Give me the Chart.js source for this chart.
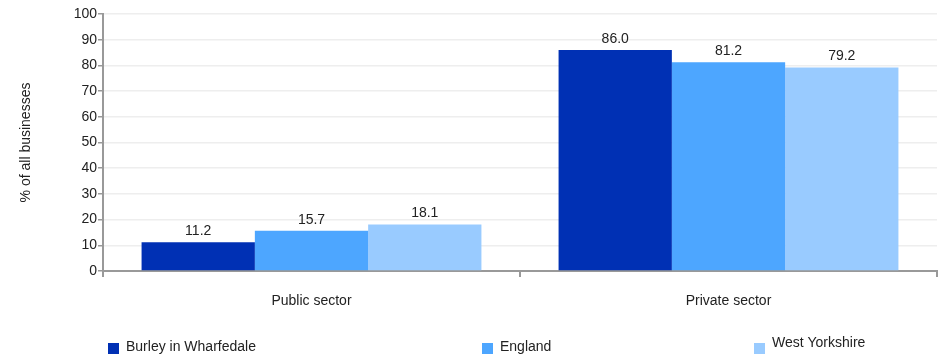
<!DOCTYPE html>
<html>
<head>
<meta charset="utf-8">
<script src="https://cdn.jsdelivr.net/npm/chart.js@4"></script>
<style>
  html, body { margin: 0; padding: 0; background: #fff; }
  #wrap { width: 939px; height: 355px; position: relative; }
</style>
</head>
<body>
<div id="wrap"><canvas id="chart"></canvas></div>
<script>
// chart data
const categories = ["Public sector", "Private sector"];
const seriesNames = ["Burley in Wharfedale", "England", "West Yorkshire"];
const burleyValues = [11.2, 86.0];
const englandValues = [15.7, 81.2];
const westYorkshireValues = [18.1, 79.2];
const yTicks = [0, 10, 20, 30, 40, 50, 60, 70, 80, 90, 100];

const colors = ["#0030b4", "#4da6ff", "#99cbff"];
const fontFamily = "'Liberation Sans', Arial, sans-serif";

// value labels above each bar
const barLabels = {
  id: "barLabels",
  afterDatasetsDraw(chart) {
    const ctx = chart.ctx;
    ctx.save();
    ctx.font = "14px " + fontFamily;
    ctx.fillStyle = "#222";
    ctx.textAlign = "center";
    ctx.textBaseline = "bottom";
    chart.data.datasets.forEach((ds, i) => {
      chart.getDatasetMeta(i).data.forEach((bar, j) => {
        ctx.fillText(ds.data[j].toFixed(1), bar.x, bar.y - 4);
      });
    });
    ctx.restore();
  }
};

// legend laid out like the original (spread across the bottom)
const customLegend = {
  id: "customLegend",
  afterDraw(chart) {
    const ctx = chart.ctx;
    const spots = [
      { x: 108, y: 348 },
      { x: 482, y: 348 },
      { x: 754, y: 348 }
    ];
    ctx.save();
    ctx.font = "14px " + fontFamily;
    ctx.textBaseline = "middle";
    seriesNames.forEach((name, i) => {
      const s = spots[i];
      ctx.fillStyle = colors[i];
      ctx.fillRect(s.x, s.y - 5, 11, 11);
      ctx.fillStyle = "#222";
      ctx.fillText(name, s.x + 18, i === 2 ? s.y - 5 : s.y - 1);
    });
    ctx.restore();
  }
};

new Chart(document.getElementById("chart"), {
  type: "bar",
  data: {
    labels: categories,
    datasets: [
      { label: seriesNames[0], data: burleyValues, backgroundColor: colors[0] },
      { label: seriesNames[1], data: englandValues, backgroundColor: colors[1] },
      { label: seriesNames[2], data: westYorkshireValues, backgroundColor: colors[2] }
    ]
  },
  options: {
    responsive: true,
    maintainAspectRatio: false,
    animation: false,
    layout: { padding: { top: 14, right: 2, left: 0, bottom: 0 } },
    datasets: { bar: { barPercentage: 1, categoryPercentage: 0.815 } },
    plugins: {
      legend: { display: false },
      tooltip: { enabled: false }
    },
    scales: {
      x: {
        afterFit: (scale) => { scale.height = 84; },
        grid: {
          offset: true,
          drawOnChartArea: false,
          color: "#999",
          tickLength: 6,
          lineWidth: 2
        },
        border: { color: "#999", width: 2 },
        ticks: {
          color: "#222",
          padding: 16,
          font: { size: 14, family: fontFamily }
        }
      },
      y: {
        min: 0,
        max: 100,
        afterFit: (scale) => { scale.width = 103; },
        afterBuildTicks: (scale) => {
          scale.ticks = yTicks.map((v) => ({ value: v }));
        },
        grid: {
          color: (c) => (c.tick && c.tick.value === 0 ? "#999" : "#eeeeee"),
          tickColor: "#999",
          tickLength: 5,
          lineWidth: 1.5
        },
        border: { color: "#999", width: 2 },
        ticks: {
          color: "#222",
          padding: 1,
          font: { size: 14, family: fontFamily }
        },
        title: {
          display: true,
          text: "% of all businesses",
          color: "#222",
          padding: { top: 18, bottom: 0 },
          font: { size: 14, family: fontFamily }
        }
      }
    }
  },
  plugins: [barLabels, customLegend]
});
</script>
</body>
</html>
